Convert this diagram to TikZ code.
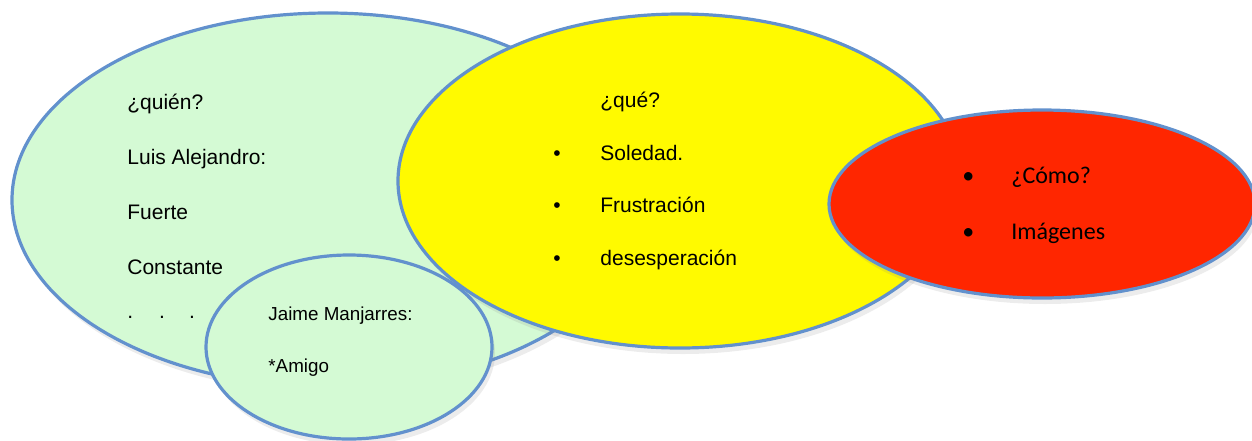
\documentclass[tikz,border=0pt]{standalone}
\usepackage{fontspec}
\setmainfont{Liberation Sans}
\newfontfamily\calfont{Carlito}
\usetikzlibrary{shapes.geometric,shadows}
\definecolor{rimblue}{RGB}{98,145,205}
\definecolor{palegreen}{RGB}{212,250,212}
\definecolor{lemon}{RGB}{255,250,0}
\definecolor{scarlet}{RGB}{255,38,0}
\tikzset{
  bubble/.style={ellipse, draw=rimblue, line width=1.6pt, inner sep=0pt,
    drop shadow={shadow xshift=1.5pt, shadow yshift=-3pt, opacity=0.15}},
  item/.style={anchor=base west, inner sep=0pt, font=\fontsize{10.5}{12}\selectfont},
  itemsmall/.style={item, font=\fontsize{9.4}{11}\selectfont},
  itemcal/.style={item, font=\calfont\fontsize{12}{14}\selectfont}
}
\begin{document}
\begin{tikzpicture}[x=0.5pt,y=-0.5pt]
                \useasboundingbox (0,0) rectangle (1252,440);
                % bubbles
                \node[bubble, fill=palegreen, minimum width=316pt, minimum height=187pt] (quien) at (328,200) {};
                \node[bubble, fill=lemon, minimum width=282pt, minimum height=167pt] (que) at (680,181) {};
                \node[bubble, fill=scarlet, minimum width=213pt, minimum height=94pt] (como) at (1042,204) {};
                \node[bubble, fill=palegreen, minimum width=143pt, minimum height=92pt] (amigo) at (349,347) {};
                % who
                \node[item] (q1) at (127,109) {¿quién?};
                \node[item] (q2) at (127,164) {Luis Alejandro:};
                \node[item] (q3) at (127,219) {Fuerte};
                \node[item] (q4) at (127,274) {Constante};
                \node[item] (q5) at (127,318) {.\hspace{13pt}.\hspace{12pt}.};
                % what
                \node[item] (w0) at (600,107) {¿qué?};
                \node[item] (b1) at (553,160) {\textbullet};
                \node[item] (w1) at (600,160) {Soledad.};
                \node[item] (b2) at (553,212) {\textbullet};
                \node[item] (w2) at (600,212) {Frustración};
                \node[item] (b3) at (553,265) {\textbullet};
                \node[item] (w3) at (600,265) {desesperación};
                % how
                \node[itemcal] (b4) at (962,183) {\textbullet};
                \node[itemcal] (h1) at (1011,183) {¿Cómo?};
                \node[itemcal] (b5) at (962,239) {\textbullet};
                \node[itemcal] (h2) at (1011,239) {Imágenes};
                % friend
                \node[itemsmall] (f1) at (268,320) {Jaime Manjarres:};
                \node[itemsmall] (f2) at (268,372) {*Amigo};
            \end{tikzpicture}
\end{document}
